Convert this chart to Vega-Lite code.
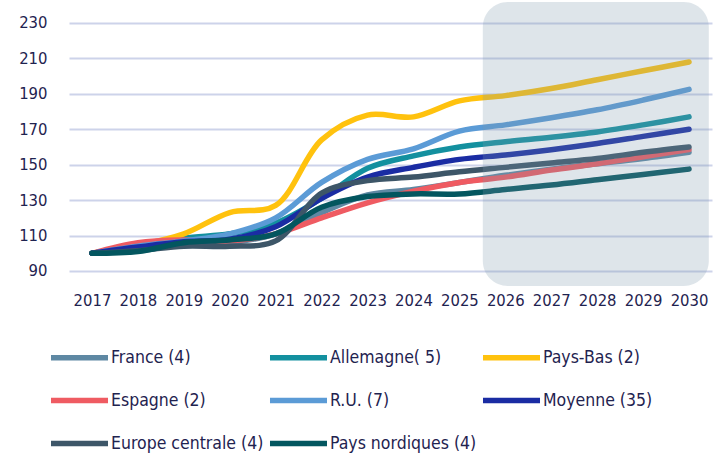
{
  "$schema": "https://vega.github.io/schema/vega-lite/v6.json",
  "width": 643,
  "height": 284,
  "autosize": {"type": "none"},
  "padding": {"left": 69, "top": 2, "right": 11, "bottom": 168},
  "background": "white",
  "config": {
    "view": {"stroke": null},
    "font": "DejaVu Sans Condensed",
    "axis": {"labelFont": "DejaVu Sans Condensed", "labelColor": "#1f2350", "labelFontSize": 16.5, "domain": false, "ticks": false, "title": null},
    "legend": {"labelFont": "DejaVu Sans Condensed", "labelColor": "#1f2350", "labelFontSize": 17.5}
  },
  "layer": [
    {
      "data": {"values": [
        {"year": 2017, "series": "France (4)", "value": 100}, {"year": 2018, "series": "France (4)", "value": 102}, {"year": 2019, "series": "France (4)", "value": 105}, {"year": 2020, "series": "France (4)", "value": 106}, {"year": 2021, "series": "France (4)", "value": 111}, {"year": 2022, "series": "France (4)", "value": 123}, {"year": 2023, "series": "France (4)", "value": 133}, {"year": 2024, "series": "France (4)", "value": 136}, {"year": 2025, "series": "France (4)", "value": 140}, {"year": 2026, "series": "France (4)", "value": 144}, {"year": 2027, "series": "France (4)", "value": 147.5}, {"year": 2028, "series": "France (4)", "value": 150.5}, {"year": 2029, "series": "France (4)", "value": 153.5}, {"year": 2030, "series": "France (4)", "value": 157},
        {"year": 2017, "series": "Allemagne( 5)", "value": 100}, {"year": 2018, "series": "Allemagne( 5)", "value": 103.5}, {"year": 2019, "series": "Allemagne( 5)", "value": 108.5}, {"year": 2020, "series": "Allemagne( 5)", "value": 111}, {"year": 2021, "series": "Allemagne( 5)", "value": 117}, {"year": 2022, "series": "Allemagne( 5)", "value": 131}, {"year": 2023, "series": "Allemagne( 5)", "value": 148}, {"year": 2024, "series": "Allemagne( 5)", "value": 155}, {"year": 2025, "series": "Allemagne( 5)", "value": 160}, {"year": 2026, "series": "Allemagne( 5)", "value": 163}, {"year": 2027, "series": "Allemagne( 5)", "value": 165.5}, {"year": 2028, "series": "Allemagne( 5)", "value": 168.5}, {"year": 2029, "series": "Allemagne( 5)", "value": 172.5}, {"year": 2030, "series": "Allemagne( 5)", "value": 177},
        {"year": 2017, "series": "Pays-Bas (2)", "value": 100}, {"year": 2018, "series": "Pays-Bas (2)", "value": 104.5}, {"year": 2019, "series": "Pays-Bas (2)", "value": 111}, {"year": 2020, "series": "Pays-Bas (2)", "value": 123}, {"year": 2021, "series": "Pays-Bas (2)", "value": 127}, {"year": 2022, "series": "Pays-Bas (2)", "value": 164}, {"year": 2023, "series": "Pays-Bas (2)", "value": 178}, {"year": 2024, "series": "Pays-Bas (2)", "value": 177}, {"year": 2025, "series": "Pays-Bas (2)", "value": 186}, {"year": 2026, "series": "Pays-Bas (2)", "value": 189}, {"year": 2027, "series": "Pays-Bas (2)", "value": 193}, {"year": 2028, "series": "Pays-Bas (2)", "value": 198}, {"year": 2029, "series": "Pays-Bas (2)", "value": 203}, {"year": 2030, "series": "Pays-Bas (2)", "value": 208},
        {"year": 2017, "series": "Espagne (2)", "value": 100}, {"year": 2018, "series": "Espagne (2)", "value": 106}, {"year": 2019, "series": "Espagne (2)", "value": 107.5}, {"year": 2020, "series": "Espagne (2)", "value": 107}, {"year": 2021, "series": "Espagne (2)", "value": 111}, {"year": 2022, "series": "Espagne (2)", "value": 120}, {"year": 2023, "series": "Espagne (2)", "value": 128.5}, {"year": 2024, "series": "Espagne (2)", "value": 135}, {"year": 2025, "series": "Espagne (2)", "value": 140}, {"year": 2026, "series": "Espagne (2)", "value": 143}, {"year": 2027, "series": "Espagne (2)", "value": 147}, {"year": 2028, "series": "Espagne (2)", "value": 150.5}, {"year": 2029, "series": "Espagne (2)", "value": 154.5}, {"year": 2030, "series": "Espagne (2)", "value": 158.5},
        {"year": 2017, "series": "R.U. (7)", "value": 100}, {"year": 2018, "series": "R.U. (7)", "value": 104}, {"year": 2019, "series": "R.U. (7)", "value": 107}, {"year": 2020, "series": "R.U. (7)", "value": 111}, {"year": 2021, "series": "R.U. (7)", "value": 120}, {"year": 2022, "series": "R.U. (7)", "value": 140}, {"year": 2023, "series": "R.U. (7)", "value": 153}, {"year": 2024, "series": "R.U. (7)", "value": 159}, {"year": 2025, "series": "R.U. (7)", "value": 169}, {"year": 2026, "series": "R.U. (7)", "value": 172.5}, {"year": 2027, "series": "R.U. (7)", "value": 176.5}, {"year": 2028, "series": "R.U. (7)", "value": 181}, {"year": 2029, "series": "R.U. (7)", "value": 186.5}, {"year": 2030, "series": "R.U. (7)", "value": 192.5},
        {"year": 2017, "series": "Moyenne (35)", "value": 100}, {"year": 2018, "series": "Moyenne (35)", "value": 103.5}, {"year": 2019, "series": "Moyenne (35)", "value": 106.5}, {"year": 2020, "series": "Moyenne (35)", "value": 108}, {"year": 2021, "series": "Moyenne (35)", "value": 115}, {"year": 2022, "series": "Moyenne (35)", "value": 131}, {"year": 2023, "series": "Moyenne (35)", "value": 143}, {"year": 2024, "series": "Moyenne (35)", "value": 148.5}, {"year": 2025, "series": "Moyenne (35)", "value": 153}, {"year": 2026, "series": "Moyenne (35)", "value": 155.5}, {"year": 2027, "series": "Moyenne (35)", "value": 158.5}, {"year": 2028, "series": "Moyenne (35)", "value": 162}, {"year": 2029, "series": "Moyenne (35)", "value": 166}, {"year": 2030, "series": "Moyenne (35)", "value": 170},
        {"year": 2017, "series": "Europe centrale (4)", "value": 100}, {"year": 2018, "series": "Europe centrale (4)", "value": 101.5}, {"year": 2019, "series": "Europe centrale (4)", "value": 104}, {"year": 2020, "series": "Europe centrale (4)", "value": 104}, {"year": 2021, "series": "Europe centrale (4)", "value": 107}, {"year": 2022, "series": "Europe centrale (4)", "value": 134}, {"year": 2023, "series": "Europe centrale (4)", "value": 141}, {"year": 2024, "series": "Europe centrale (4)", "value": 143}, {"year": 2025, "series": "Europe centrale (4)", "value": 146}, {"year": 2026, "series": "Europe centrale (4)", "value": 148.5}, {"year": 2027, "series": "Europe centrale (4)", "value": 151}, {"year": 2028, "series": "Europe centrale (4)", "value": 153.5}, {"year": 2029, "series": "Europe centrale (4)", "value": 157}, {"year": 2030, "series": "Europe centrale (4)", "value": 160},
        {"year": 2017, "series": "Pays nordiques (4)", "value": 100}, {"year": 2018, "series": "Pays nordiques (4)", "value": 101}, {"year": 2019, "series": "Pays nordiques (4)", "value": 106}, {"year": 2020, "series": "Pays nordiques (4)", "value": 107.5}, {"year": 2021, "series": "Pays nordiques (4)", "value": 111}, {"year": 2022, "series": "Pays nordiques (4)", "value": 126}, {"year": 2023, "series": "Pays nordiques (4)", "value": 132}, {"year": 2024, "series": "Pays nordiques (4)", "value": 133.5}, {"year": 2025, "series": "Pays nordiques (4)", "value": 133.5}, {"year": 2026, "series": "Pays nordiques (4)", "value": 136}, {"year": 2027, "series": "Pays nordiques (4)", "value": 138.5}, {"year": 2028, "series": "Pays nordiques (4)", "value": 141.5}, {"year": 2029, "series": "Pays nordiques (4)", "value": 144.5}, {"year": 2030, "series": "Pays nordiques (4)", "value": 147.5}
      ]},
      "mark": {"type": "line", "interpolate": "catmull-rom", "strokeWidth": 5.5, "strokeCap": "round", "strokeJoin": "round"},
      "encoding": {
        "x": {"field": "year", "type": "quantitative", "scale": {"domain": [2016.5, 2030.5], "nice": false, "zero": false},
              "axis": {"values": [2017, 2018, 2019, 2020, 2021, 2022, 2023, 2024, 2025, 2026, 2027, 2028, 2029, 2030], "format": "d", "grid": false, "labelPadding": 6, "labelFlush": false, "labelOverlap": false}},
        "y": {"field": "value", "type": "quantitative", "scale": {"domain": [81.53, 241.85], "nice": false, "zero": false},
              "axis": {"values": [90, 110, 130, 150, 170, 190, 210, 230], "grid": true, "gridColor": "#cdd3ea", "gridWidth": 2, "labelPadding": 22}},
        "color": {"field": "series", "type": "nominal", "sort": null,
          "scale": {"domain": ["France (4)", "Allemagne( 5)", "Pays-Bas (2)", "Espagne (2)", "R.U. (7)", "Moyenne (35)", "Europe centrale (4)", "Pays nordiques (4)"],
                    "range": ["#5e88a3", "#13909f", "#ffc20e", "#ef5b62", "#5b9bd6", "#1a2ca3", "#3d5668", "#03565f"]},
          "legend": {"title": null, "orient": "none", "legendX": -21, "legendY": 324, "columns": 3, "direction": "horizontal", "symbolType": "stroke", "symbolSize": 3250, "symbolStrokeWidth": 5.5, "labelOffset": 0, "columnPadding": -6, "rowPadding": -1, "padding": 0}}
      }
    },
    {
      "data": {"values": [{"start": 2025.51, "end": 2030.43}]},
      "mark": {"type": "rect", "color": "#7b97ab", "opacity": 0.25, "cornerRadius": 25},
      "encoding": {
        "x": {"field": "start", "type": "quantitative"},
        "x2": {"field": "end"}
      }
    }
  ]
}
